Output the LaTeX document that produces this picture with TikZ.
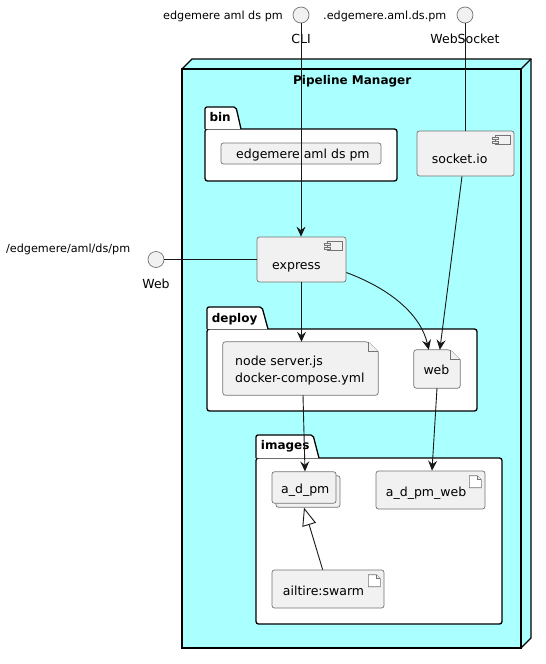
\documentclass[tikz,border=0pt]{standalone}
\usepackage{fontspec}
\setmainfont{DejaVu Sans}
\usetikzlibrary{arrows.meta,calc}
\definecolor{cyanbg}{HTML}{AAFFFF}
\definecolor{elfill}{HTML}{F1F1F1}
\definecolor{ink}{HTML}{181818}
\newcommand\ZFile[2]{%
  \filldraw[elemline] (#1.south) [rounded corners=2.5pt] -- (#1.south west) -- (#1.north west) -- ($(#1.north east)+(-#2,0)$) [sharp corners] -- ($(#1.north east)+(0,#2)$) [rounded corners=2.5pt] -- (#1.south east) -- cycle;
  \draw[elemline] ($(#1.north east)+(-#2,0)$) -- ($(#1.north east)+(-#2,#2)$) -- ($(#1.north east)+(0,#2)$);}
\newcommand\ZArtIcon[1]{%
  \draw[elemline,fill=white] ($(#1.north east)+(-16,5)$) -- ($(#1.north east)+(-8,5)$) -- ($(#1.north east)+(-4,9)$) -- ($(#1.north east)+(-4,17)$) -- ($(#1.north east)+(-16,17)$) -- cycle;
  \draw[elemline] ($(#1.north east)+(-8,5)$) -- ($(#1.north east)+(-8,9)$) -- ($(#1.north east)+(-4,9)$);}
\newcommand\ZCompIcon[1]{%
  \draw[elemline] ($(#1.north east)+(-19,5)$) rectangle ($(#1.north east)+(-4,14)$);
  \draw[elemline] ($(#1.north east)+(-22,7)$) rectangle ($(#1.north east)+(-16,9)$);
  \draw[elemline] ($(#1.north east)+(-22,10.5)$) rectangle ($(#1.north east)+(-16,12.5)$);}
\begin{document}
\begin{tikzpicture}[x=1pt,y=-1pt,
  txt/.style={font=\fontsize{12.5}{15}\selectfont, inner sep=0pt, anchor=base west},
  smalltxt/.style={font=\fontsize{11.2}{13}\selectfont, inner sep=0pt},
  pkgtitle/.style={font=\bfseries\fontsize{12}{14}\selectfont, inner sep=0pt, anchor=base west},
  elemline/.style={draw=ink!60, fill=elfill, line width=0.7pt},
  ebox/.style={rectangle, draw=ink!60, fill=elfill, line width=0.7pt, rounded corners=2.5pt, inner sep=0pt},
  shapebox/.style={rectangle, draw=none, inner sep=0pt},
  pkgline/.style={draw=black, fill=white, line width=1.3pt},
  iface/.style={circle, draw=ink!60, fill=elfill, line width=0.7pt, minimum size=16pt, inner sep=0pt},
  conn/.style={draw=ink, line width=0.9pt},
  arr/.style={conn, -{Stealth[length=10pt,width=9pt,inset=3.5pt]}},
  inh/.style={conn, -{Triangle[open,length=18pt,width=14pt,fill=white]}},
]
\useasboundingbox (0,0) rectangle (546,664);

% Pipeline Manager node (3D box)
\fill[cyanbg] (182,69) -- (192,59) -- (531,59) -- (531,638) -- (521,648) -- (182,648) -- cycle;
\draw[line width=1.1pt] (182,69) rectangle (521,648);
\draw[line width=1.1pt] (182,69) -- (192,59) -- (531,59) -- (531,638) -- (521,648);
\draw[line width=1.1pt] (521,69) -- (531,59);
\node[font=\bfseries\fontsize{12}{14}\selectfont, inner sep=0pt, anchor=base west] (pmT) at (293,84) {Pipeline Manager};

% interfaces
\node[iface] (cliI) at (301,15) {};
\node[smalltxt, anchor=base west] (cliD) at (163,19) {edgemere aml ds pm};
\node[txt, anchor=base] (cliT) at (301,43.3) {CLI};
\node[iface] (wsI) at (465,15) {};
\node[smalltxt, anchor=base west] (wsD) at (323,19) {.edgemere.aml.ds.pm};
\node[txt, anchor=base] (wsT) at (465,43.3) {WebSocket};
\node[iface] (webI) at (156,259.5) {};
\node[smalltxt, anchor=base west] (webD) at (6,252.7) {/edgemere/aml/ds/pm};
\node[txt, anchor=base] (webT) at (156,288) {Web};

% package bin
\draw[pkgline, rounded corners=2.5pt] (205,129) rectangle (397,181);
\filldraw[pkgline, rounded corners=2pt] (205,129) -- (205,107) -- (236,107) [sharp corners] -- (241,129);
\node[pkgtitle] (binT) at (209.3,121.7) {bin};
\node[ebox, minimum width=160pt, minimum height=21pt] (binexe) at (301,153.5) {};
\node[txt] (binexeT) at (236,158.3) {edgemere aml ds pm};

% socket.io
\node[ebox, minimum width=97pt, minimum height=45pt] (socket) at (465.5,153.5) {};
\ZCompIcon{socket}
\node[txt] (socketT) at (431.7,163.3) {socket.io};

% express
\node[ebox, minimum width=89pt, minimum height=45pt] (express) at (301.5,259.5) {};
\ZCompIcon{express}
\node[txt] (expressT) at (272,269) {express};

% package deploy
\draw[pkgline, rounded corners=2.5pt] (207,329) rectangle (477,411);
\filldraw[pkgline, rounded corners=2pt] (207,329) -- (207,307) -- (262,307) [sharp corners] -- (268,329);
\node[pkgtitle] (deployT) at (211.7,322.7) {deploy};
\node[shapebox, minimum width=155pt, minimum height=53pt] (nodef) at (300.5,368.5) {};
\ZFile{nodef}{10}
\node[txt] (nodefT1) at (235,365.3) {node server.js};
\node[txt] (nodefT2) at (235,382) {docker-compose.yml};
\node[shapebox, minimum width=46pt, minimum height=38pt] (webf) at (437,369) {};
\ZFile{webf}{10}
\node[txt] (webfT) at (423.3,374) {web};

% package images
\draw[pkgline, rounded corners=2.5pt] (256,458) rectangle (502,624);
\filldraw[pkgline, rounded corners=2pt] (256,458) -- (256,435) -- (313,435) [sharp corners] -- (319,458);
\node[pkgtitle] (imagesT) at (260.7,449) {images};
\node[ebox, minimum width=64pt, minimum height=31.5pt] (adpmback) at (308,491.5) {};
\node[ebox, minimum width=64pt, minimum height=31.5pt] (adpm) at (304,487.5) {};
\node[txt] (adpmT) at (281,493.5) {a\_d\_pm};
\node[ebox, minimum width=109pt, minimum height=38pt] (adpmweb) at (430.5,490) {};
\ZArtIcon{adpmweb}
\node[txt] (adpmwebT) at (385.7,496) {a\_d\_pm\_web};
\node[ebox, minimum width=112pt, minimum height=38pt] (swarm) at (328,589) {};
\ZArtIcon{swarm}
\node[txt] (swarmT) at (282.7,595) {ailtire:swarm};

% connectors
\draw[arr] (cliI.south) -- (cliI.south |- express.north);
\draw[conn] (wsI.south) -- (wsI.south |- socket.north);
\draw[conn] (webI.east) -- (webI.east -| express.west);
\draw[arr] (express.south) -- (express.south |- nodef.north);
\draw[arr] ($(express.east)+(0,13)$) .. controls (393,290) and (421,316) .. ($(webf.north west)+(15,0)$);
\draw[arr] ($(socket.south)+(-3.5,0)$) -- ($(webf.north west)+(26,0)$);
\draw[arr] ($(nodef.south)+(2.5,0)$) -- ($(adpm.north)+(1,0)$);
\draw[arr] (webf.south) -- ($(adpmweb.north)+(1.5,0)$);
\draw[inh] ($(swarm.north west)+(51,0)$) -- (adpmback.south -| adpm.south);
\end{tikzpicture}
\end{document}
